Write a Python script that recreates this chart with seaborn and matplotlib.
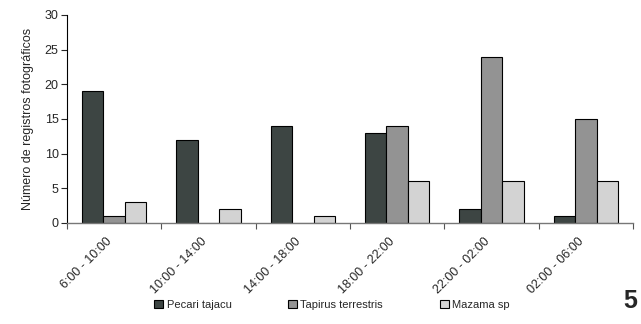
import pandas as pd
import matplotlib
matplotlib.use("Agg")
import matplotlib.pyplot as plt
import matplotlib.transforms as mtransforms
import seaborn as sns
from matplotlib.patches import Patch

# data
periodos = ["6:00 - 10:00", "10:00 - 14:00", "14:00 - 18:00",
            "18:00 - 22:00", "22:00 - 02:00", "02:00 - 06:00"]
especies = ["Pecari tajacu", "Tapirus terrestris", "Mazama sp"]
pecari = [19, 12, 14, 13, 2, 1]
tapirus = [1, 0, 0, 14, 24, 15]
mazama = [3, 2, 1, 6, 6, 6]
cores = ["#3d4543", "#939393", "#d3d3d3"]

df = pd.DataFrame({
    "periodo": periodos * 3,
    "especie": [especies[0]] * 6 + [especies[1]] * 6 + [especies[2]] * 6,
    "registros": pecari + tapirus + mazama,
})

sns.set_style("white")
plt.rcParams["font.family"] = ["Liberation Sans", "DejaVu Sans"]

fig = plt.figure(figsize=(6.41, 3.24), dpi=100)
ax = fig.add_axes([0.1045, 0.312, 0.883, 0.642])

sns.barplot(data=df, x="periodo", y="registros", hue="especie",
            palette=cores, width=0.68, edgecolor="black", linewidth=0.8,
            saturation=1, legend=False, ax=ax)

ax.set_ylim(0, 30)
ax.set_xlim(-0.5, 5.5)
ax.set_yticks(range(0, 31, 5))
ax.tick_params(axis="y", labelsize=9, length=4, width=0.8, direction="out",
               left=True, pad=2)
ax.set_ylabel("Número de registros fotográficos", fontsize=9, labelpad=8)
ax.set_xlabel("")

# category labels at the centre, tick marks between the groups
ax.set_xticks(range(6))
ax.set_xticklabels(periodos, rotation=45, ha="right", rotation_mode="anchor",
                   fontsize=9)
ax.tick_params(axis="x", which="major", length=0, pad=9)
shift = mtransforms.ScaledTranslation(-8 / 100, 0, fig.dpi_scale_trans)
for lab in ax.get_xticklabels():
    lab.set_transform(lab.get_transform() + shift)
ax.set_xticks([i + 0.5 for i in range(-1, 6)], minor=True)
ax.tick_params(axis="x", which="minor", length=4, width=0.8, color="#555555",
               direction="out", bottom=True)

for s in ["top", "right"]:
    ax.spines[s].set_visible(False)
ax.spines["left"].set_color("black")
ax.spines["left"].set_linewidth(0.8)
ax.spines["bottom"].set_color("#777777")
ax.spines["bottom"].set_linewidth(1.0)

handles = [Patch(facecolor=c, edgecolor="black", linewidth=0.8) for c in cores]
fig.legend(handles, especies, loc="center", bbox_to_anchor=(0.518, 0.06),
           ncol=3, frameon=False, fontsize=8, handlelength=0.8,
           handleheight=0.8, handletextpad=0.3, columnspacing=5.1)

fig.text(0.983, 0.07, "5", fontsize=18, fontweight="bold", ha="center",
         va="center")

fig.savefig("out.png", dpi=100)
